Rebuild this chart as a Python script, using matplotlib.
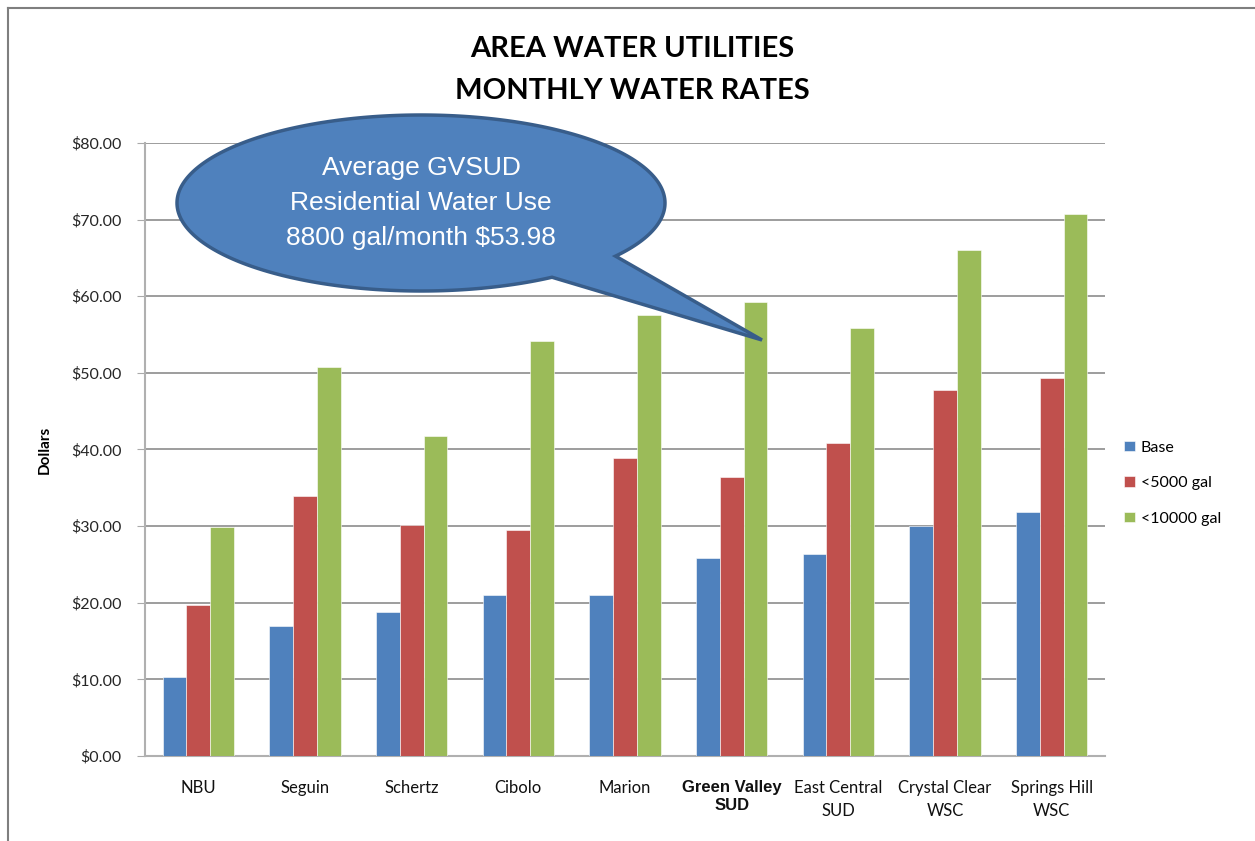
import numpy as np
import matplotlib
matplotlib.use('Agg')
from matplotlib import pyplot as plt
from matplotlib.patches import Polygon
from matplotlib.lines import Line2D

# 数据
categories = ['NBU', 'Seguin', 'Schertz', 'Cibolo', 'Marion', 'Green Valley\nSUD',
              'East Central\nSUD', 'Crystal Clear\nWSC', 'Springs Hill\nWSC']
base = [10.3, 17.0, 18.8, 21.0, 21.0, 25.9, 26.4, 30.0, 31.9]
gal_5000 = [19.7, 33.9, 30.1, 29.5, 38.9, 36.4, 40.9, 47.8, 49.3]
gal_10000 = [29.9, 50.8, 41.7, 54.2, 57.6, 59.3, 55.9, 66.0, 70.7]
series_names = ['Base', '<5000 gal', '<10000 gal']
colors = ['#4F81BD', '#C0504D', '#9BBB59']
yticks = [0, 10, 20, 30, 40, 50, 60, 70, 80]

W, H = 1255, 841
fig = plt.figure(figsize=(W / 100, H / 100), dpi=100)
ax = fig.add_axes([145 / W, (H - 756) / H, 960 / W, 613 / H])

x = np.arange(len(categories))
bw = 0.222
for k, vals in enumerate([base, gal_5000, gal_10000]):
    ax.bar(x + (k - 1) * bw, vals, width=bw, color=colors[k], label=series_names[k],
           edgecolor='white', linewidth=0.4, zorder=3)

ax.set_xlim(-0.5, len(categories) - 0.5)
ax.set_ylim(0, 80)
ax.set_yticks(yticks)
ax.set_yticklabels(['${:.2f}'.format(v) for v in yticks], family='Lato', fontsize=11.5, color='#262626')
ax.grid(axis='y', color='#8c8c8c', linewidth=1.2, zorder=0)
ax.set_xticks(x)
ax.set_xticklabels(categories, family='Lato', fontsize=12, color='#111111', linespacing=1.6)
ax.tick_params(axis='x', length=0, pad=17)
ax.tick_params(axis='y', length=6, color='#aaaaaa', pad=11)
gv = ax.get_xticklabels()[5]
gv.set_family('Liberation Sans')
gv.set_fontweight('bold')
gv.set_fontsize(12)
gv.set_linespacing(1.25)

for s in ['top', 'right']:
    ax.spines[s].set_visible(False)
for s in ['left', 'bottom']:
    ax.spines[s].set_color('#b0b0b0')
    ax.spines[s].set_linewidth(1.5)

ax.set_ylabel('Dollars', family='Lato', fontweight='bold', fontsize=11, labelpad=14)

fig.text(632 / W, 1 - 70 / H, 'AREA WATER UTILITIES\nMONTHLY WATER RATES', ha='center', va='center',
         family='Lato', fontweight='bold', fontsize=21, linespacing=1.75)

ax.legend(loc='center left', bbox_to_anchor=(1.005, 0.445), frameon=False, prop={'family': 'Lato', 'size': 11.5},
          handlelength=0.65, handleheight=0.65, handletextpad=0.4, labelspacing=1.35)

# 对话框(椭圆 + 尾巴)
def px(xp, yp):
    return (xp / W, 1 - yp / H)

cx, cy, a, b = 421, 203, 244, 88
t_low = np.arctan2(0.85, 0.541)
t_up = np.arctan2(0.602, 0.795)
ts = np.linspace(t_low, t_up + 2 * np.pi, 300)
pts = [px(cx + a * np.cos(t), cy + b * np.sin(t)) for t in ts]
pts.append(px(762, 340))
callout = Polygon(pts, closed=True, transform=fig.transFigure, facecolor='#4F81BD',
                  edgecolor='#385D8A', linewidth=2.5, joinstyle='miter', zorder=10)
fig.patches.append(callout)
fig.text(421 / W, 1 - 203 / H, 'Average GVSUD\nResidential Water Use\n8800 gal/month $53.98',
         ha='center', va='center', color='white', family='Liberation Sans', fontsize=19,
         linespacing=1.6, zorder=11)

# 外框(上边和左边)
fig.lines.append(Line2D([8 / W, 1], [1 - 8 / H, 1 - 8 / H], transform=fig.transFigure,
                        color='#7f7f7f', linewidth=1.5))
fig.lines.append(Line2D([8 / W, 8 / W], [0, 1 - 8 / H], transform=fig.transFigure,
                        color='#7f7f7f', linewidth=1.5))

plt.savefig('out.png', dpi=100)
